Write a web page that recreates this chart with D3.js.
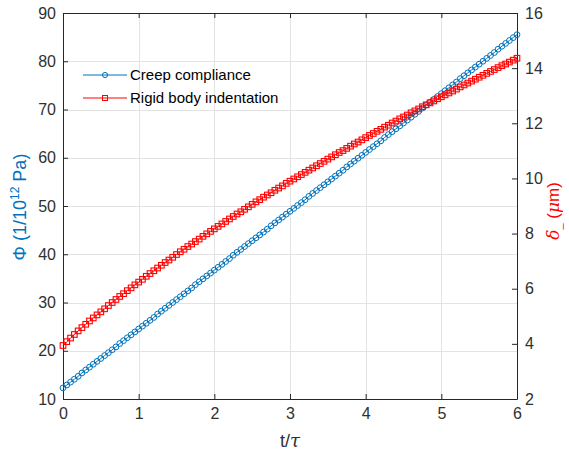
<!DOCTYPE html>
<html>
<head>
<meta charset="utf-8">
<script src="https://cdn.jsdelivr.net/npm/d3@7"></script>
<style>
body { margin: 0; background: #fff; }
svg { display: block; font-family: "Liberation Sans", Arial, sans-serif; }
.axis path, .axis line { stroke: #262626; }
.axis text { fill: #303030; font-size: 16px; }
</style>
</head>
<body>
<svg id="chart" width="569" height="457"></svg>
<script>
// t/tau sampling grid
var tValues = [0,0.05,0.1,0.15,0.2,0.25,0.3,0.35,0.4,0.45,0.5,0.55,0.6,0.65,0.7,0.75,0.8,0.85,0.9,0.95,
	1,1.05,1.1,1.15,1.2,1.25,1.3,1.35,1.4,1.45,1.5,1.55,1.6,1.65,1.7,1.75,1.8,1.85,1.9,1.95,
	2,2.05,2.1,2.15,2.2,2.25,2.3,2.35,2.4,2.45,2.5,2.55,2.6,2.65,2.7,2.75,2.8,2.85,2.9,2.95,
	3,3.05,3.1,3.15,3.2,3.25,3.3,3.35,3.4,3.45,3.5,3.55,3.6,3.65,3.7,3.75,3.8,3.85,3.9,3.95,
	4,4.05,4.1,4.15,4.2,4.25,4.3,4.35,4.4,4.45,4.5,4.55,4.6,4.65,4.7,4.75,4.8,4.85,4.9,4.95,
	5,5.05,5.1,5.15,5.2,5.25,5.3,5.35,5.4,5.45,5.5,5.55,5.6,5.65,5.7,5.75,5.8,5.85,5.9,5.95,6];

// creep compliance (left axis)
var creep = [12.3,12.9,13.5,14.1,14.7,15.4,16.0,16.6,17.2,17.8,18.4,19.0,19.6,20.2,20.8,21.5,22.1,22.7,23.3,23.9,
	24.5,25.1,25.7,26.3,26.9,27.6,28.2,28.8,29.4,30.0,30.6,31.2,31.8,32.4,33.0,33.7,34.3,34.9,35.5,36.1,
	36.7,37.3,37.9,38.5,39.1,39.8,40.4,41.0,41.6,42.2,42.8,43.4,44.0,44.6,45.2,45.9,46.5,47.1,47.7,48.3,
	48.9,49.5,50.1,50.7,51.3,52.0,52.6,53.2,53.8,54.4,55.0,55.6,56.2,56.8,57.4,58.1,58.7,59.3,59.9,60.5,
	61.1,61.7,62.3,62.9,63.5,64.2,64.8,65.4,66.0,66.6,67.2,67.8,68.4,69.0,69.6,70.3,70.9,71.5,72.1,72.7,
	73.3,73.9,74.5,75.1,75.7,76.4,77.0,77.6,78.2,78.8,79.4,80.0,80.6,81.2,81.8,82.5,83.1,83.7,84.3,84.9,85.5];

// rigid body indentation (right axis, um)
var indent = [3.94,4.08,4.21,4.34,4.47,4.59,4.71,4.83,4.94,5.05,5.16,5.27,5.39,5.50,5.61,5.72,5.82,5.93,6.03,6.14,
	6.24,6.34,6.45,6.55,6.65,6.75,6.85,6.95,7.04,7.14,7.24,7.34,7.43,7.53,7.62,7.71,7.80,7.90,7.99,8.08,
	8.17,8.26,8.35,8.44,8.53,8.62,8.71,8.79,8.88,8.97,9.06,9.15,9.23,9.32,9.40,9.48,9.57,9.65,9.73,9.82,
	9.90,9.98,10.06,10.14,10.22,10.30,10.38,10.46,10.54,10.62,10.70,10.78,10.86,10.94,11.01,11.09,11.17,11.25,11.32,11.40,
	11.48,11.56,11.63,11.71,11.78,11.86,11.93,12.01,12.08,12.16,12.23,12.30,12.38,12.45,12.52,12.60,12.67,12.74,12.81,12.89,
	12.96,13.03,13.10,13.17,13.24,13.32,13.39,13.46,13.53,13.60,13.67,13.74,13.81,13.88,13.95,14.02,14.09,14.15,14.22,14.29,14.36];

var xTicks = [0, 1, 2, 3, 4, 5, 6];
var leftTicks = [10, 20, 30, 40, 50, 60, 70, 80, 90];
var rightTicks = [2, 4, 6, 8, 10, 12, 14, 16];
var seriesNames = ["Creep compliance", "Rigid body indentation"];

var blue = "#0072BD", red = "#FF0000";
var pLeft = 63, pRight = 517, pTop = 13, pBottom = 399;

var svg = d3.select("#chart");

var x = d3.scaleLinear().domain([0, 6]).range([pLeft, pRight]);
var yL = d3.scaleLinear().domain([10, 90]).range([pBottom, pTop]);
var yR = d3.scaleLinear().domain([2, 16]).range([pBottom, pTop]);
var fmt = d3.format("d");

// grid
var grid = svg.append("g").attr("stroke", "#e3e3e3").attr("stroke-width", 1);
grid.selectAll(".gx").data(xTicks.slice(1, -1)).enter().append("line")
	.attr("x1", function(d) { return Math.round(x(d)) + 0.5; })
	.attr("x2", function(d) { return Math.round(x(d)) + 0.5; })
	.attr("y1", pTop).attr("y2", pBottom);
grid.selectAll(".gy").data(leftTicks.slice(1, -1)).enter().append("line")
	.attr("y1", function(d) { return Math.round(yL(d)) + 0.5; })
	.attr("y2", function(d) { return Math.round(yL(d)) + 0.5; })
	.attr("x1", pLeft).attr("x2", pRight);

// axes
svg.append("g").attr("class", "axis")
	.attr("transform", "translate(0," + pBottom + ")")
	.call(d3.axisBottom(x).tickValues(xTicks).tickFormat(fmt).tickSize(-5).tickPadding(9).tickSizeOuter(0));
svg.append("g").attr("class", "axis")
	.attr("transform", "translate(0," + pTop + ")")
	.call(d3.axisTop(x).tickValues(xTicks).tickSize(-5).tickSizeOuter(0).tickFormat(""));
svg.append("g").attr("class", "axis")
	.attr("transform", "translate(" + pLeft + ",0)")
	.call(d3.axisLeft(yL).tickValues(leftTicks).tickFormat(fmt).tickSize(-5).tickPadding(7).tickSizeOuter(0));
svg.append("g").attr("class", "axis")
	.attr("transform", "translate(" + pRight + ",0)")
	.call(d3.axisRight(yR).tickValues(rightTicks).tickFormat(fmt).tickSize(-5).tickPadding(8).tickSizeOuter(0));

// series
var pts = tValues.map(function(t, i) { return { t: t, c: creep[i], d: indent[i] }; });

svg.append("path").datum(pts)
	.attr("fill", "none").attr("stroke", blue).attr("stroke-width", 1)
	.attr("d", d3.line().x(function(d) { return x(d.t); }).y(function(d) { return yL(d.c); }));
svg.append("g").selectAll("circle").data(pts).enter().append("circle")
	.attr("cx", function(d) { return x(d.t); })
	.attr("cy", function(d) { return yL(d.c); })
	.attr("r", 2.9)
	.attr("fill", "none").attr("stroke", blue).attr("stroke-width", 1);

svg.append("path").datum(pts)
	.attr("fill", "none").attr("stroke", red).attr("stroke-width", 1)
	.attr("d", d3.line().x(function(d) { return x(d.t); }).y(function(d) { return yR(d.d); }));
svg.append("g").selectAll("rect").data(pts).enter().append("rect")
	.attr("x", function(d) { return x(d.t) - 2.8; })
	.attr("y", function(d) { return yR(d.d) - 2.8; })
	.attr("width", 5.6).attr("height", 5.6)
	.attr("fill", "none").attr("stroke", red).attr("stroke-width", 1.1);

// legend
var legend = svg.append("g");
[blue, red].forEach(function(col, i) {
	var ly = 75 + i * 23;
	legend.append("line").attr("x1", 83).attr("x2", 127).attr("y1", ly).attr("y2", ly)
		.attr("stroke", col).attr("stroke-width", 1);
	if (i === 0)
		legend.append("circle").attr("cx", 105).attr("cy", ly).attr("r", 2.6)
			.attr("fill", "none").attr("stroke", col);
	else
		legend.append("rect").attr("x", 102.5).attr("y", ly - 2.5).attr("width", 5).attr("height", 5)
			.attr("fill", "none").attr("stroke", col);
	legend.append("text").attr("x", 130).attr("y", ly).attr("dy", "0.35em")
		.attr("font-size", 15).attr("fill", "#000").text(seriesNames[i]);
});

// axis labels
svg.append("text").attr("x", 290).attr("y", 447).attr("text-anchor", "middle")
	.attr("font-size", 18).attr("fill", "#303030")
	.html('t/<tspan font-family="DejaVu Serif" font-style="italic">τ</tspan>');

var yl = svg.append("text").attr("transform", "translate(26,207) rotate(-90)")
	.attr("text-anchor", "middle").attr("font-size", 18).attr("fill", blue);
yl.append("tspan").text("Φ (1/10");
yl.append("tspan").attr("dy", -7).attr("font-size", 12).text("12");
yl.append("tspan").attr("dy", 7).text(" Pa)");

var yr = svg.append("text").attr("transform", "translate(559,211) rotate(-90)")
	.attr("text-anchor", "middle").attr("font-size", 17).attr("fill", red);
yr.append("tspan").attr("font-family", "DejaVu Serif").attr("font-style", "italic").text("δ");
yr.append("tspan").attr("dy", 3).attr("font-size", 11).text("_");
yr.append("tspan").attr("dy", -3).text(" (");
yr.append("tspan").attr("font-family", "DejaVu Serif").attr("font-style", "italic").text("μ");
yr.append("tspan").text("m)");
</script>
</body>
</html>
